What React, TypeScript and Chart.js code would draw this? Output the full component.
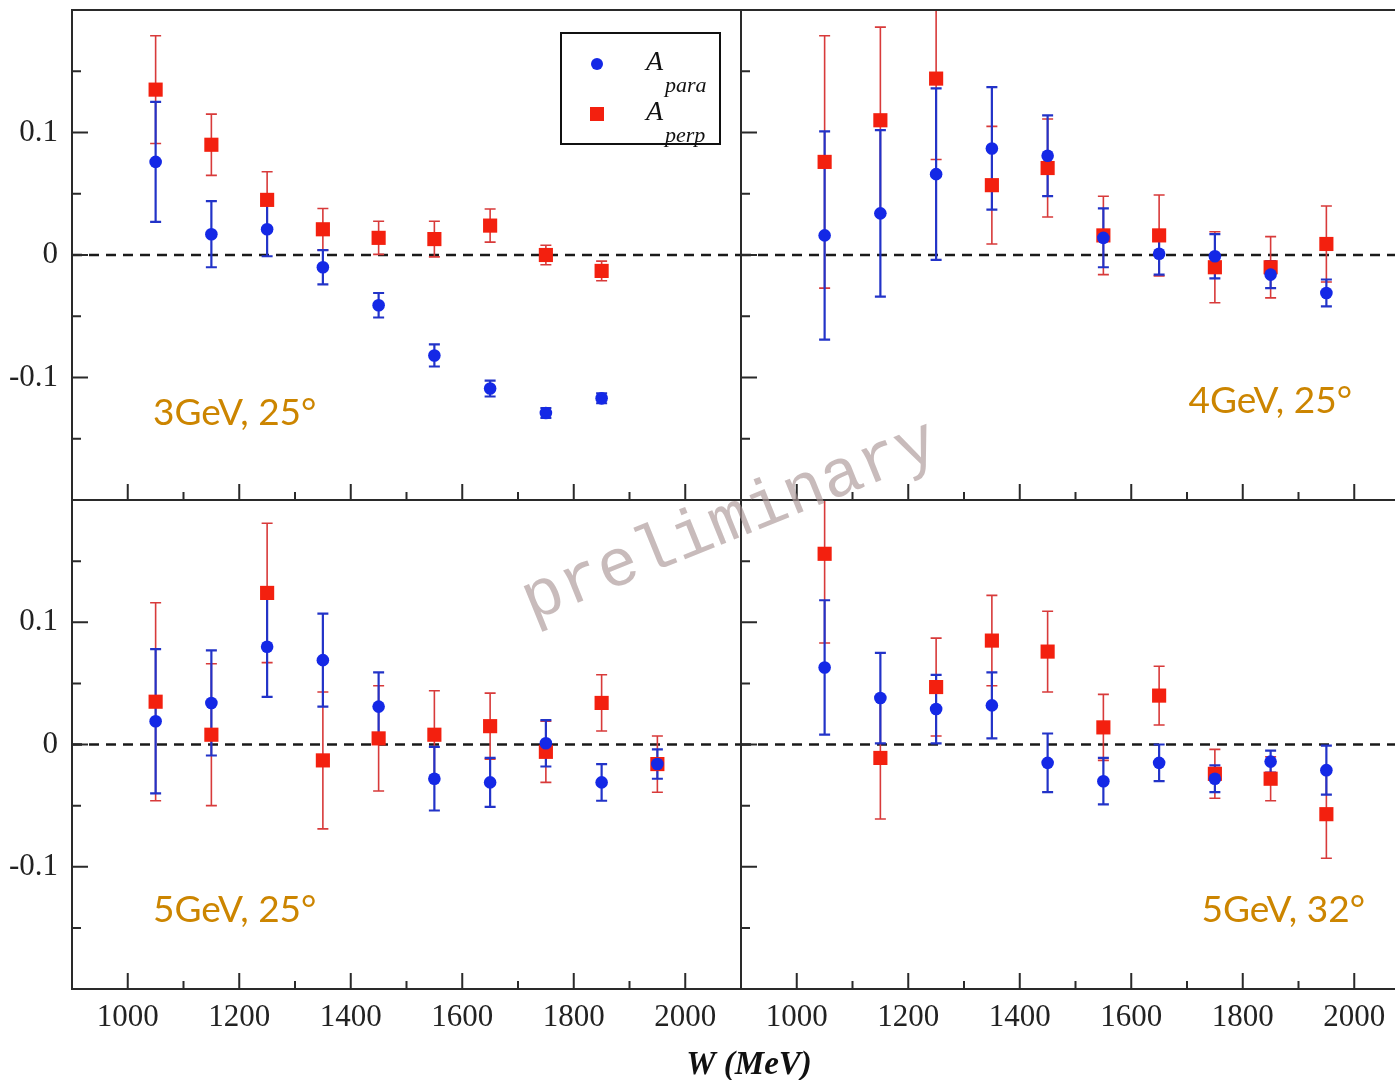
import React, { useEffect, useRef } from "react";
import { Chart, registerables } from "chart.js";

Chart.register(...registerables);

// ---------- data ----------
const W_BINS = [1050, 1150, 1250, 1350, 1450, 1550, 1650, 1750, 1850, 1950];

const PARA_3GEV_25 = [0.076, 0.017, 0.021, -0.010, -0.041, -0.082, -0.109, -0.129, -0.117, null];
const PARA_3GEV_25_ERR = [0.049, 0.027, 0.022, 0.014, 0.010, 0.009, 0.0065, 0.004, 0.004, null];
const PERP_3GEV_25 = [0.135, 0.090, 0.045, 0.021, 0.014, 0.013, 0.024, 0.000, -0.013, null];
const PERP_3GEV_25_ERR = [0.044, 0.025, 0.023, 0.017, 0.0135, 0.0145, 0.0135, 0.008, 0.008, null];

const PARA_4GEV_25 = [0.016, 0.034, 0.066, 0.087, 0.081, 0.014, 0.001, -0.001, -0.016, -0.031];
const PARA_4GEV_25_ERR = [0.085, 0.068, 0.070, 0.050, 0.033, 0.024, 0.017, 0.018, 0.011, 0.011];
const PERP_4GEV_25 = [0.076, 0.110, 0.144, 0.057, 0.071, 0.016, 0.016, -0.010, -0.010, 0.009];
const PERP_4GEV_25_ERR = [0.103, 0.076, 0.066, 0.048, 0.040, 0.032, 0.033, 0.029, 0.025, 0.031];

const PARA_5GEV_25 = [0.019, 0.034, 0.080, 0.069, 0.031, -0.028, -0.031, 0.001, -0.031, -0.016];
const PARA_5GEV_25_ERR = [0.059, 0.043, 0.041, 0.038, 0.028, 0.026, 0.020, 0.019, 0.015, 0.012];
const PERP_5GEV_25 = [0.035, 0.008, 0.124, -0.013, 0.005, 0.008, 0.015, -0.006, 0.034, -0.016];
const PERP_5GEV_25_ERR = [0.081, 0.058, 0.057, 0.056, 0.043, 0.036, 0.027, 0.025, 0.023, 0.023];

const PARA_5GEV_32 = [0.063, 0.038, 0.029, 0.032, -0.015, -0.030, -0.015, -0.028, -0.014, -0.021];
const PARA_5GEV_32_ERR = [0.055, 0.037, 0.028, 0.027, 0.024, 0.019, 0.015, 0.011, 0.009, 0.020];
const PERP_5GEV_32 = [0.156, -0.011, 0.047, 0.085, 0.076, 0.014, 0.040, -0.024, -0.028, -0.057];
const PERP_5GEV_32_ERR = [0.073, 0.050, 0.040, 0.037, 0.033, 0.027, 0.024, 0.020, 0.018, 0.036];

const PANEL_LABELS = ["3GeV, 25°", "4GeV, 25°", "5GeV, 25°", "5GeV, 32°"];
const SERIES_SUBSCRIPTS = ["para", "perp"];
const X_MAJOR = [1000, 1200, 1400, 1600, 1800, 2000];
const X_MINOR = [1100, 1300, 1500, 1700, 1900];
const Y_MAJOR = [-0.1, 0, 0.1];
const Y_MINOR = [-0.15, -0.05, 0.05, 0.15];
const X_TITLE = "W (MeV)";
const WATERMARK = "preliminary";

// ---------- styling / layout ----------
const CANVAS_W = 1420;
const CANVAS_H = 1080;
const Y_AXIS_W = 72;
const X_AXIS_H = 80;
const SERIF = "'Liberation Serif', 'Times New Roman', serif";
const LABEL_FONT = "Lato, 'DejaVu Sans', sans-serif";
const BLUE = "#1428e6";
const BLUE_BAR = "#2233c8";
const RED = "#f3200f";
const RED_BAR = "#d83a3a";
const ORANGE = "#cc8500";
const AXIS = "#2a2a2a";

const PANELS = [
  { para: PARA_3GEV_25, paraErr: PARA_3GEV_25_ERR, perp: PERP_3GEV_25, perpErr: PERP_3GEV_25_ERR,
    label: PANEL_LABELS[0], left: 72, right: 741, top: 10, bottom: 500,
    yLabels: true, xLabels: false, legend: true,
    lab: { align: "left", dx: 81, base: 415 } },
  { para: PARA_4GEV_25, paraErr: PARA_4GEV_25_ERR, perp: PERP_4GEV_25, perpErr: PERP_4GEV_25_ERR,
    label: PANEL_LABELS[1], left: 741, right: 1410, top: 10, bottom: 500,
    yLabels: false, xLabels: false, legend: false,
    lab: { align: "right", dx: 58, base: 403 } },
  { para: PARA_5GEV_25, paraErr: PARA_5GEV_25_ERR, perp: PERP_5GEV_25, perpErr: PERP_5GEV_25_ERR,
    label: PANEL_LABELS[2], left: 72, right: 741, top: 500, bottom: 989,
    yLabels: true, xLabels: true, legend: false,
    lab: { align: "left", dx: 81, base: 422 } },
  { para: PARA_5GEV_32, paraErr: PARA_5GEV_32_ERR, perp: PERP_5GEV_32, perpErr: PERP_5GEV_32_ERR,
    label: PANEL_LABELS[3], left: 741, right: 1410, top: 500, bottom: 989,
    yLabels: false, xLabels: true, legend: false,
    lab: { align: "right", dx: 45, base: 422 } },
];

function toPoints(vals: (number | null)[], errs: (number | null)[]) {
  const data: { x: number; y: number }[] = [];
  const e: number[] = [];
  W_BINS.forEach((w, i) => {
    const v = vals[i];
    if (v !== null && v !== undefined) {
      data.push({ x: w, y: v });
      e.push(errs[i] as number);
    }
  });
  return { data, e };
}

function drawCircle(ctx: CanvasRenderingContext2D, x: number, y: number, r: number) {
  ctx.fillStyle = BLUE;
  ctx.beginPath();
  ctx.arc(x, y, r, 0, Math.PI * 2);
  ctx.fill();
}
function drawSquare(ctx: CanvasRenderingContext2D, x: number, y: number, s: number) {
  ctx.fillStyle = RED;
  ctx.fillRect(x - s / 2, y - s / 2, s, s);
}

function buildConfig(p: any, idx: number) {
  const para = toPoints(p.para, p.paraErr);
  const perp = toPoints(p.perp, p.perpErr);
  const showX = p.xLabels === true;
  const showY = p.yLabels === true;

  const plugin = {
    id: "panelDeco" + idx,
    beforeDatasetsDraw(chart: any) {
      const { ctx, chartArea: ca } = chart;
      const xs = chart.scales.x;
      const ys = chart.scales.y;
      ctx.save();
      ctx.beginPath();
      ctx.rect(ca.left, ca.top, ca.right - ca.left, ca.bottom - ca.top);
      ctx.clip();
      // zero line
      const y0 = ys.getPixelForValue(0);
      ctx.setLineDash([10, 7]);
      ctx.strokeStyle = "#1a1a1a";
      ctx.lineWidth = 2.4;
      ctx.beginPath();
      ctx.moveTo(ca.left, y0);
      ctx.lineTo(ca.right, y0);
      ctx.stroke();
      ctx.setLineDash([]);
      // error bars (perp first, then para)
      const dsets = chart.data.datasets;
      for (let d = dsets.length - 1; d >= 0; d--) {
        const ds = dsets[d];
        ctx.strokeStyle = ds.errColor;
        ctx.lineWidth = ds.errWidth;
        const cap = 5.5;
        ds.data.forEach((pt: any, i: number) => {
          const err = ds.errors[i];
          const px = xs.getPixelForValue(pt.x);
          const yt = ys.getPixelForValue(pt.y + err);
          const yb = ys.getPixelForValue(pt.y - err);
          ctx.beginPath();
          ctx.moveTo(px, yt);
          ctx.lineTo(px, yb);
          ctx.moveTo(px - cap, yt);
          ctx.lineTo(px + cap, yt);
          ctx.moveTo(px - cap, yb);
          ctx.lineTo(px + cap, yb);
          ctx.stroke();
        });
      }
      ctx.restore();
    },
    afterDraw(chart: any) {
      const { ctx, chartArea: ca } = chart;
      const xs = chart.scales.x;
      const ys = chart.scales.y;
      ctx.save();
      // ticks
      ctx.strokeStyle = AXIS;
      ctx.lineWidth = 2;
      ctx.beginPath();
      X_MAJOR.forEach((v) => {
        const px = xs.getPixelForValue(v);
        ctx.moveTo(px, ca.bottom);
        ctx.lineTo(px, ca.bottom - 16);
      });
      X_MINOR.forEach((v) => {
        const px = xs.getPixelForValue(v);
        ctx.moveTo(px, ca.bottom);
        ctx.lineTo(px, ca.bottom - 8);
      });
      Y_MAJOR.forEach((v) => {
        const py = ys.getPixelForValue(v);
        ctx.moveTo(ca.left, py);
        ctx.lineTo(ca.left + 16, py);
      });
      Y_MINOR.forEach((v) => {
        const py = ys.getPixelForValue(v);
        ctx.moveTo(ca.left, py);
        ctx.lineTo(ca.left + 9, py);
      });
      ctx.stroke();
      // frame
      ctx.lineWidth = 2;
      ctx.strokeRect(ca.left, ca.top, ca.right - ca.left, ca.bottom - ca.top);

      // panel label
      ctx.fillStyle = ORANGE;
      ctx.font = "37px " + LABEL_FONT;
      ctx.textBaseline = "alphabetic";
      if (p.lab.align === "left") {
        ctx.textAlign = "left";
        ctx.fillText(p.label, ca.left + p.lab.dx, ca.top + p.lab.base);
      } else {
        ctx.textAlign = "right";
        ctx.fillText(p.label, ca.right - p.lab.dx, ca.top + p.lab.base);
      }

      // legend
      if (p.legend) {
        const bw = 159, bh = 111;
        const bx = ca.right - 21 - bw;
        const by = ca.top + 23;
        ctx.fillStyle = "#fff";
        ctx.fillRect(bx, by, bw, bh);
        ctx.strokeStyle = "#111";
        ctx.lineWidth = 2;
        ctx.strokeRect(bx, by, bw, bh);
        drawCircle(ctx, bx + 36, by + 31, 6);
        drawSquare(ctx, bx + 36, by + 81, 14);
        ctx.fillStyle = "#111";
        ctx.textAlign = "left";
        ctx.font = "italic 28px " + SERIF;
        ctx.fillText("A", bx + 85, by + 37);
        ctx.fillText("A", bx + 85, by + 87);
        ctx.font = "italic 22px " + SERIF;
        ctx.fillText(SERIES_SUBSCRIPTS[0], bx + 104, by + 59);
        ctx.fillText(SERIES_SUBSCRIPTS[1], bx + 104, by + 109);
      }

      // shared x title
      if (idx === 2) {
        ctx.fillStyle = "#111";
        ctx.font = "bold italic 33px " + SERIF;
        ctx.textAlign = "center";
        ctx.textBaseline = "alphabetic";
        ctx.fillText(X_TITLE, 749, 1074);
      }

      // watermark on the topmost canvas
      if (idx === 3) {
        ctx.save();
        ctx.translate(730, 522);
        ctx.rotate((-22 * Math.PI) / 180);
        ctx.fillStyle = "rgba(170,150,150,0.65)";
        ctx.font = "67px 'Liberation Mono', 'DejaVu Sans Mono', monospace";
        ctx.textAlign = "center";
        ctx.textBaseline = "middle";
        ctx.fillText(WATERMARK, 0, 0);
        ctx.restore();
      }
      ctx.restore();
    },
  };

  return {
    type: "scatter",
    data: {
      datasets: [
        {
          label: "A_para",
          data: para.data,
          errors: para.e,
          errColor: BLUE_BAR,
          errWidth: 2.2,
          pointStyle: "circle",
          pointRadius: 6.3,
          backgroundColor: BLUE,
          borderColor: BLUE,
          borderWidth: 0,
        },
        {
          label: "A_perp",
          data: perp.data,
          errors: perp.e,
          errColor: RED_BAR,
          errWidth: 1.6,
          pointStyle: "rect",
          pointRadius: 10,
          backgroundColor: RED,
          borderColor: RED,
          borderWidth: 0,
        },
      ],
    },
    options: {
      responsive: false,
      maintainAspectRatio: false,
      devicePixelRatio: 1,
      animation: false,
      events: [],
      layout: {
        padding: {
          left: p.left - Y_AXIS_W,
          right: CANVAS_W - p.right,
          top: p.top,
          bottom: CANVAS_H - p.bottom - X_AXIS_H,
        },
      },
      plugins: {
        legend: { display: false },
        tooltip: { enabled: false },
        title: { display: false },
      },
      scales: {
        x: {
          type: "linear",
          min: 900,
          max: 2100,
          grid: { display: false },
          border: { display: false },
          afterBuildTicks: (s: any) => {
            s.ticks = X_MAJOR.map((v) => ({ value: v }));
          },
          afterFit: (s: any) => {
            s.height = X_AXIS_H;
            s.paddingLeft = 0;
            s.paddingRight = 0;
          },
          ticks: {
            display: showX,
            padding: 2,
            color: "#222",
            maxRotation: 0,
            autoSkip: false,
            font: { family: SERIF, size: 31 },
            callback: (v: any) => String(v),
          },
        },
        y: {
          type: "linear",
          min: -0.2,
          max: 0.2,
          grid: { display: false },
          border: { display: false },
          afterBuildTicks: (s: any) => {
            s.ticks = Y_MAJOR.map((v) => ({ value: v }));
          },
          afterFit: (s: any) => {
            s.width = Y_AXIS_W;
            s.paddingTop = 0;
            s.paddingBottom = 0;
          },
          ticks: {
            display: showY,
            padding: 6,
            color: "#222",
            font: { family: SERIF, size: 31 },
            callback: (v: any) => (v === 0 ? "0" : String(v)),
          },
        },
      },
    },
    plugins: [plugin],
  };
}

export default function App() {
  const r0 = useRef<HTMLCanvasElement>(null);
  const r1 = useRef<HTMLCanvasElement>(null);
  const r2 = useRef<HTMLCanvasElement>(null);
  const r3 = useRef<HTMLCanvasElement>(null);
  const refs = [r0, r1, r2, r3];

  useEffect(() => {
    const charts = PANELS.map(
      (p, i) => new Chart(refs[i].current as HTMLCanvasElement, buildConfig(p, i) as any)
    );
    return () => charts.forEach((c) => c.destroy());
  }, []);

  return (
    <div
      style={{
        position: "fixed",
        left: 0,
        top: 0,
        width: 1395,
        height: 1080,
        overflow: "hidden",
        background: "#fff",
      }}
    >
      {refs.map((r, i) => (
        <canvas
          key={i}
          ref={r}
          width={CANVAS_W}
          height={CANVAS_H}
          style={{ position: "absolute", left: 0, top: 0, width: CANVAS_W, height: CANVAS_H }}
        />
      ))}
    </div>
  );
}
